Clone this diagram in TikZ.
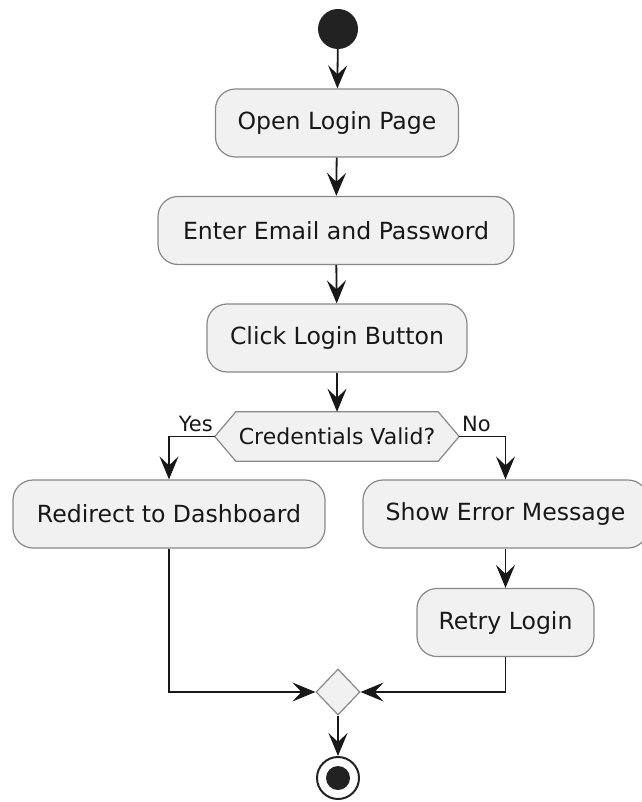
\documentclass[tikz,border=0pt]{standalone}
\usepackage{fontspec}
\setmainfont{DejaVu Sans}
\usetikzlibrary{arrows.meta,shapes.geometric,backgrounds,calc}
\definecolor{boxfill}{HTML}{F1F1F1}
\definecolor{boxline}{HTML}{888888}
\definecolor{ink}{HTML}{181818}
\definecolor{dot}{HTML}{222222}
\tikzset{
  act/.style={draw=boxline, fill=boxfill, line width=1.2pt, rounded corners=20pt,
    minimum height=68pt, inner xsep=8pt, text=ink,
    font=\fontsize{23.6}{28}\selectfont},
  conn/.style={draw=ink, line width=1.8pt,
    -{Stealth[length=23pt,width=19pt,inset=9pt]}},
  lbl/.style={text=ink, font=\fontsize{21}{24}\selectfont, inner sep=0pt},
}
\begin{document}
\begin{tikzpicture}[x=1pt,y=-1pt]
\path[use as bounding box] (0,0) rectangle (641,802);

\node[circle, fill=dot, minimum size=40pt, inner sep=0pt] (start) at (338,29) {};
\node[act, minimum width=243pt] (open) at (337,123) {Open Login Page};
\node[act, minimum width=356pt] (enter) at (336,230.5) {Enter Email and Password};
\node[act, minimum width=260pt] (click) at (337,338) {Click Login Button};
\node[minimum width=244pt, minimum height=49pt, inner sep=0pt, text=ink,
  font=\fontsize{22}{26}\selectfont] (dec) at (337,436.5) {Credentials Valid?};
\begin{scope}[on background layer]
\draw[draw=boxline, fill=boxfill, line width=1.2pt]
  (dec.west) -- ([xshift=21pt]dec.north west) -- ([xshift=-21pt]dec.north east)
  -- (dec.east) -- ([xshift=-21pt]dec.south east) -- ([xshift=21pt]dec.south west) -- cycle;
\end{scope}
\node[act, minimum width=312pt] (redir) at (169,514) {Redirect to Dashboard};
\node[act, minimum width=285pt] (err) at (505.5,514) {Show Error Message};
\node[act, minimum width=177pt] (retry) at (505.5,622.5) {Retry Login};
\node[diamond, aspect=1, draw=boxline, fill=boxfill, line width=1.2pt,
  minimum width=44pt, minimum height=46pt, inner sep=0pt] (merge) at (338,692) {};
\node[circle, draw=dot, fill=white, line width=2pt, minimum size=42pt, inner sep=0pt] (stop) at (338,778) {};
\node[circle, fill=dot, minimum size=24pt, inner sep=0pt] (stopdot) at (stop.center) {};

\node[lbl, anchor=base east] (yes) at (213,431) {Yes};
\node[lbl, anchor=base west] (no) at (462,431) {No};

\draw[conn] (start) -- (open);
\draw[conn] (open) -- (enter);
\draw[conn] (enter) -- (click);
\draw[conn] (click) -- (dec.north);
\draw[conn] (dec.west) -| (redir.north);
\draw[conn] (dec.east) -| (err.north);
\draw[conn] (err) -- (retry);
\draw[conn] (redir.south) |- (merge.west);
\draw[conn] (retry.south) |- (merge.east);
\draw[conn] (merge) -- (stop);
\end{tikzpicture}
\end{document}
